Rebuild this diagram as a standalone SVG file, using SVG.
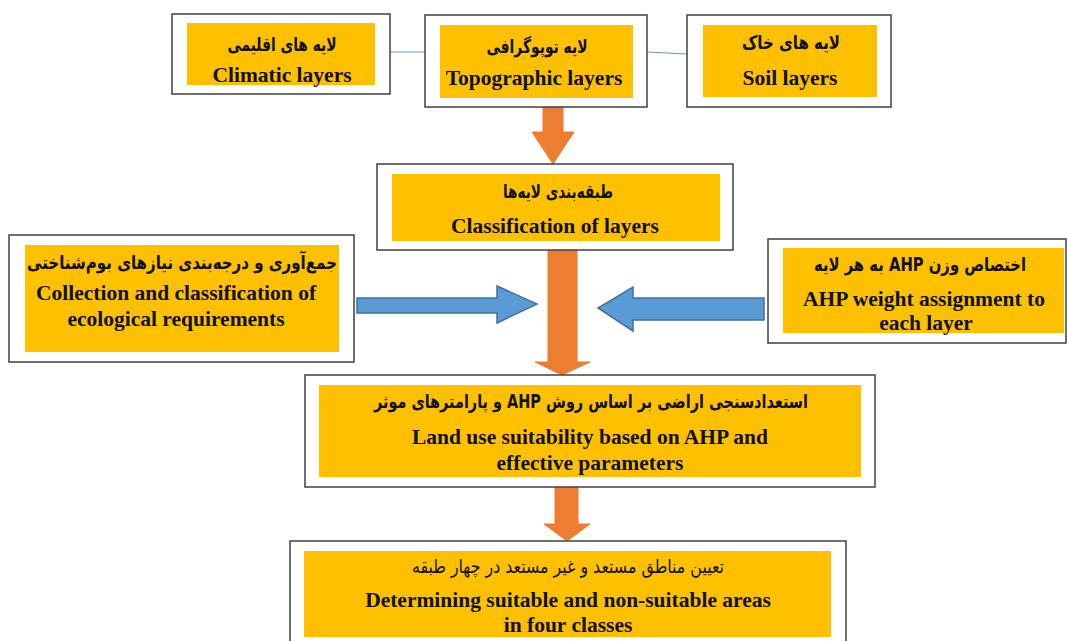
<svg xmlns="http://www.w3.org/2000/svg" width="1067" height="641" viewBox="0 0 1067 641">
<style>
.outer{fill:#fff;stroke:#404040;stroke-width:1.5}
.inner{fill:#FFC000}
.en{font-family:"Liberation Serif","Times New Roman",serif;font-weight:bold;font-size:21.5px;fill:#111;text-anchor:middle}
.fa{font-family:"DejaVu Sans",sans-serif;font-weight:bold;font-size:19px;fill:#111;text-anchor:middle;direction:rtl}
.fa.reg{font-weight:normal}
.orange{fill:#ED7D31;stroke:#ED7D31;stroke-width:1}
.blue{fill:#5B9BD5;stroke:#41719C;stroke-width:1.5}
.link{stroke:#5B9BD5;stroke-width:1;fill:none}
</style>
<rect width="1067" height="641" fill="#fff"/>
<g id="connectors">
<line class="link" x1="390" y1="52" x2="425" y2="52"/>
<line class="link" x1="647" y1="52" x2="687" y2="54"/>
<polygon class="orange" points="543,107 563,107 563,132 574,132 553,164 532,132 543,132"/>
<polygon class="orange" points="548,250 577,250 577,362 590,362 562,375 535,362 548,362"/>
<polygon class="orange" points="555,487 578,487 578,524 590,524 567,541 544,524 555,524"/>
<polygon class="blue" points="357,298 497,298 497,286 537,304 497,323 497,313 357,313"/>
<polygon class="blue" points="764,298 633,298 633,287 598,308 633,331 633,320 764,320"/>
</g>
<g id="climatic">
<rect class="outer" x="172" y="14" width="218" height="80"/>
<rect class="inner" x="187" y="23" width="188" height="62"/>
<text class="fa" x="282" y="51" textLength="109" lengthAdjust="spacingAndGlyphs">لایه های اقلیمی</text>
<text class="en" x="282" y="82">Climatic layers</text>
</g>
<g id="topographic">
<rect class="outer" x="425" y="15" width="222" height="92"/>
<rect class="inner" x="440" y="25" width="193" height="73"/>
<text class="fa" x="537" y="53" textLength="101" lengthAdjust="spacingAndGlyphs">لایه توپوگرافی</text>
<text class="en" x="534" y="85">Topographic layers</text>
</g>
<g id="soil">
<rect class="outer" x="687" y="15" width="204" height="92"/>
<rect class="inner" x="703" y="25" width="174" height="72"/>
<text class="fa" x="791" y="49" textLength="98" lengthAdjust="spacingAndGlyphs">لایه های خاک</text>
<text class="en" x="790" y="85">Soil layers</text>
</g>
<g id="classification">
<rect class="outer" x="377" y="164" width="356" height="86"/>
<rect class="inner" x="392" y="174" width="328" height="67"/>
<text class="fa" x="558" y="198" textLength="110" lengthAdjust="spacingAndGlyphs">طبقه‌بندی لایه‌ها</text>
<text class="en" x="555" y="233">Classification of layers</text>
</g>
<g id="collection">
<rect class="outer" x="9" y="235" width="345" height="127"/>
<rect class="inner" x="25" y="245" width="314" height="107"/>
<text class="fa" x="182" y="269" textLength="310" lengthAdjust="spacingAndGlyphs">جمع‌آوری و درجه‌بندی نیازهای بوم‌شناختی</text>
<text class="en" x="176" y="300">Collection and classification of</text>
<text class="en" x="176" y="326">ecological requirements</text>
</g>
<g id="ahp">
<rect class="outer" x="768" y="239" width="298" height="104"/>
<rect class="inner" x="783" y="248" width="281" height="85"/>
<text class="fa" x="920" y="271" textLength="212" lengthAdjust="spacingAndGlyphs">اختصاص وزن AHP به هر لایه</text>
<text class="en" x="924" y="306">AHP weight assignment to</text>
<text class="en" x="926" y="330">each layer</text>
</g>
<g id="landuse">
<rect class="outer" x="305" y="375" width="570" height="112"/>
<rect class="inner" x="319" y="385" width="542" height="92"/>
<text class="fa" x="591" y="408" textLength="434" lengthAdjust="spacingAndGlyphs">استعدادسنجی اراضی بر اساس روش AHP و پارامترهای موثر</text>
<text class="en" x="590" y="444">Land use suitability based on AHP and</text>
<text class="en" x="590" y="470">effective parameters</text>
</g>
<g id="final">
<rect class="outer" x="290" y="541" width="556" height="110"/>
<rect class="inner" x="304" y="551" width="527" height="86"/>
<text class="fa reg" x="568" y="573" textLength="312" lengthAdjust="spacingAndGlyphs">تعیین مناطق مستعد و غیر مستعد در چهار طبقه</text>
<text class="en" x="568" y="607">Determining suitable and non-suitable areas</text>
<text class="en" x="568" y="632">in four classes</text>
</g>
</svg>
